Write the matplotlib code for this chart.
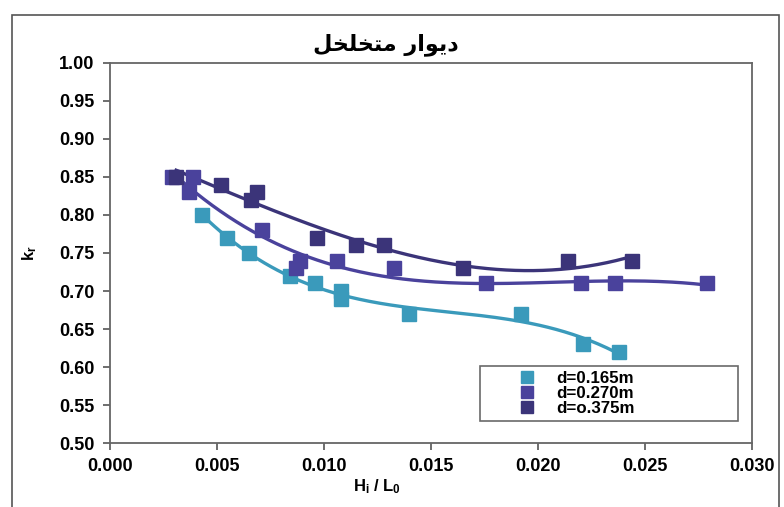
import numpy as np
import matplotlib.pyplot as plt
from matplotlib.patches import Rectangle

# measured transmission coefficients for the porous wall
x_165 = [0.0043, 0.0055, 0.0065, 0.0084, 0.0096, 0.0108, 0.0108, 0.0140, 0.0192, 0.0221, 0.0238]
k_165 = [0.80, 0.77, 0.75, 0.72, 0.71, 0.70, 0.69, 0.67, 0.67, 0.63, 0.62]

x_270 = [0.0029, 0.0039, 0.0037, 0.0071, 0.0087, 0.0089, 0.0106, 0.0133, 0.0176, 0.0220, 0.0236, 0.0279]
k_270 = [0.85, 0.85, 0.83, 0.78, 0.73, 0.74, 0.74, 0.73, 0.71, 0.71, 0.71, 0.71]

x_375 = [0.0031, 0.0052, 0.0066, 0.0069, 0.0097, 0.0115, 0.0128, 0.0165, 0.0214, 0.0244]
k_375 = [0.85, 0.84, 0.82, 0.83, 0.77, 0.76, 0.76, 0.73, 0.74, 0.74]

labels = ['d=0.165m', 'd=0.270m', 'd=o.375m']
colors = ['#3a9abb', '#4a429c', '#3b3479']

# title is written with pre-joined arabic letter forms in display order
title = '\uFEDE\uFEA8\uFEE0\uFEA8\uFE98\uFEE3 \uFEAD\uFE8D\uFEEE\uFEF3\uFEA9'

plt.rcParams['font.family'] = ['Liberation Sans', 'DejaVu Sans']
plt.rcParams['mathtext.fontset'] = 'custom'
plt.rcParams['mathtext.rm'] = 'Liberation Sans:bold'
plt.rcParams['mathtext.it'] = 'Liberation Sans:bold'
plt.rcParams['mathtext.bf'] = 'Liberation Sans:bold'

fig = plt.figure(figsize=(7.84, 5.07), dpi=100)
ax = fig.add_axes([0.140, 0.126, 0.819, 0.750])

# outer chart frame
fig.patches.append(Rectangle((12 / 784, -0.05), 767 / 784, 1.05 - 15 / 507,
                             transform=fig.transFigure, fill=False,
                             edgecolor='#555555', linewidth=1.2))

series = [(x_165, k_165), (x_270, k_270), (x_375, k_375)]
for (xs, ks), lab, col in zip(series, labels, colors):
    xs = np.array(xs)
    ks = np.array(ks)
    ax.plot(xs, ks, 's', color=col, markersize=10, label=lab, zorder=3)
    c = np.polyfit(xs, ks, 3)
    xx = np.linspace(xs.min(), xs.max(), 200)
    ax.plot(xx, np.polyval(c, xx), '-', color=col, linewidth=2.4, zorder=2)

ax.set_xlim(0, 0.030)
ax.set_ylim(0.50, 1.00)
ax.set_xticks(np.arange(0, 0.0301, 0.005))
ax.set_yticks(np.arange(0.50, 1.001, 0.05))
ax.xaxis.set_major_formatter(plt.FormatStrFormatter('%.3f'))
ax.yaxis.set_major_formatter(plt.FormatStrFormatter('%.2f'))
for lbl in ax.get_xticklabels() + ax.get_yticklabels():
    lbl.set_fontweight('bold')
    lbl.set_fontsize(13)
ax.tick_params(direction='out', length=5, color='#555555', width=1.2)
ax.tick_params(axis='x', pad=6)
ax.tick_params(axis='y', pad=6)
for sp in ax.spines.values():
    sp.set_color('#666666')
    sp.set_linewidth(1.3)

fig.text(0.492, 1 - 45 / 507, title, fontsize=16, fontweight='bold',
         family=['DejaVu Sans'], ha='center', va='center')
ax.set_xlabel(r'$H_i$ / $L_0$', fontsize=12, fontweight='bold')
ax.xaxis.set_label_coords(0.416, -0.09)
ax.set_ylabel(r'$k_r$', fontsize=12)
ax.yaxis.set_label_coords(-0.11, 0.5)

leg = ax.legend(loc='lower left', bbox_to_anchor=(0.576, 0.058, 0.402, 0.16),
                mode='expand', frameon=True, fancybox=False, edgecolor='#444444',
                fontsize=12.2, handlelength=5.0, handletextpad=-0.75,
                labelspacing=0.0, borderpad=0.3, markerscale=0.9,
                borderaxespad=0)
leg.get_frame().set_linewidth(1.2)
for t in leg.get_texts():
    t.set_fontweight('bold')

fig.savefig('out.png', dpi=100)
